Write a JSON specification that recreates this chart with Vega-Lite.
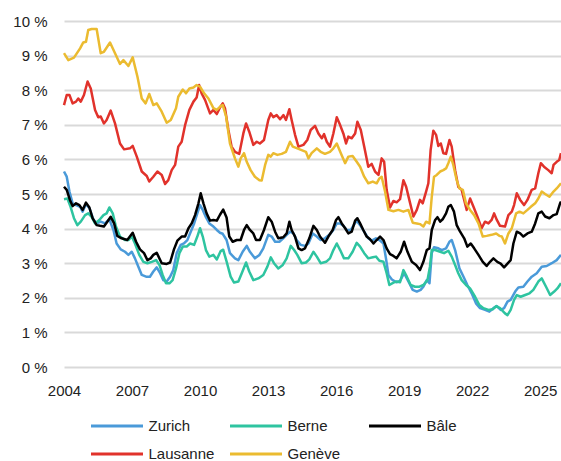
{
"$schema":"https://vega.github.io/schema/vega-lite/v6.json",
"width":497,"height":346,
"autosize":{"type":"none"},
"padding":{"left":64,"top":21,"right":0,"bottom":94},
"background":"white",
"config":{"view":{"stroke":null},"font":"Liberation Sans"},
"data":{"values":[
{"s":"Zurich","t":2004.0,"v":5.65},{"s":"Zurich","t":2004.12,"v":5.50},{"s":"Zurich","t":2004.24,"v":5.07},{"s":"Zurich","t":2004.38,"v":4.73},{"s":"Zurich","t":2004.53,"v":4.68},{"s":"Zurich","t":2004.71,"v":4.63},{"s":"Zurich","t":2004.82,"v":4.49},{"s":"Zurich","t":2004.97,"v":4.71},{"s":"Zurich","t":2005.12,"v":4.59},{"s":"Zurich","t":2005.29,"v":4.27},{"s":"Zurich","t":2005.44,"v":4.15},{"s":"Zurich","t":2005.62,"v":4.20},{"s":"Zurich","t":2005.81,"v":4.15},{"s":"Zurich","t":2006.0,"v":4.27},{"s":"Zurich","t":2006.18,"v":3.96},{"s":"Zurich","t":2006.32,"v":3.57},{"s":"Zurich","t":2006.5,"v":3.40},{"s":"Zurich","t":2006.69,"v":3.33},{"s":"Zurich","t":2006.84,"v":3.24},{"s":"Zurich","t":2006.99,"v":3.33},{"s":"Zurich","t":2007.13,"v":3.14},{"s":"Zurich","t":2007.28,"v":2.90},{"s":"Zurich","t":2007.43,"v":2.66},{"s":"Zurich","t":2007.62,"v":2.61},{"s":"Zurich","t":2007.79,"v":2.61},{"s":"Zurich","t":2007.94,"v":2.76},{"s":"Zurich","t":2008.09,"v":2.88},{"s":"Zurich","t":2008.24,"v":2.71},{"s":"Zurich","t":2008.38,"v":2.51},{"s":"Zurich","t":2008.53,"v":2.47},{"s":"Zurich","t":2008.68,"v":2.61},{"s":"Zurich","t":2008.82,"v":2.80},{"s":"Zurich","t":2008.97,"v":3.29},{"s":"Zurich","t":2009.15,"v":3.53},{"s":"Zurich","t":2009.29,"v":3.57},{"s":"Zurich","t":2009.44,"v":3.67},{"s":"Zurich","t":2009.59,"v":3.91},{"s":"Zurich","t":2009.74,"v":4.15},{"s":"Zurich","t":2009.88,"v":4.44},{"s":"Zurich","t":2010.0,"v":4.68},{"s":"Zurich","t":2010.12,"v":4.54},{"s":"Zurich","t":2010.26,"v":4.33},{"s":"Zurich","t":2010.41,"v":4.15},{"s":"Zurich","t":2010.59,"v":4.06},{"s":"Zurich","t":2010.74,"v":3.96},{"s":"Zurich","t":2010.88,"v":3.88},{"s":"Zurich","t":2011.0,"v":3.85},{"s":"Zurich","t":2011.17,"v":3.67},{"s":"Zurich","t":2011.32,"v":3.29},{"s":"Zurich","t":2011.54,"v":3.14},{"s":"Zurich","t":2011.69,"v":3.09},{"s":"Zurich","t":2011.88,"v":3.33},{"s":"Zurich","t":2012.06,"v":3.50},{"s":"Zurich","t":2012.2,"v":3.33},{"s":"Zurich","t":2012.42,"v":3.14},{"s":"Zurich","t":2012.62,"v":3.24},{"s":"Zurich","t":2012.79,"v":3.43},{"s":"Zurich","t":2013.01,"v":3.82},{"s":"Zurich","t":2013.16,"v":3.77},{"s":"Zurich","t":2013.31,"v":3.62},{"s":"Zurich","t":2013.5,"v":3.62},{"s":"Zurich","t":2013.67,"v":3.72},{"s":"Zurich","t":2013.82,"v":3.82},{"s":"Zurich","t":2013.97,"v":3.91},{"s":"Zurich","t":2014.12,"v":3.86},{"s":"Zurich","t":2014.26,"v":3.67},{"s":"Zurich","t":2014.44,"v":3.53},{"s":"Zurich","t":2014.63,"v":3.50},{"s":"Zurich","t":2014.78,"v":3.57},{"s":"Zurich","t":2014.97,"v":3.86},{"s":"Zurich","t":2015.15,"v":3.77},{"s":"Zurich","t":2015.32,"v":3.67},{"s":"Zurich","t":2015.51,"v":3.72},{"s":"Zurich","t":2015.73,"v":3.84},{"s":"Zurich","t":2015.88,"v":3.96},{"s":"Zurich","t":2016.03,"v":4.15},{"s":"Zurich","t":2016.18,"v":4.15},{"s":"Zurich","t":2016.32,"v":4.08},{"s":"Zurich","t":2016.47,"v":3.96},{"s":"Zurich","t":2016.65,"v":3.96},{"s":"Zurich","t":2016.76,"v":4.08},{"s":"Zurich","t":2016.91,"v":4.23},{"s":"Zurich","t":2017.06,"v":4.10},{"s":"Zurich","t":2017.24,"v":3.91},{"s":"Zurich","t":2017.42,"v":3.72},{"s":"Zurich","t":2017.57,"v":3.65},{"s":"Zurich","t":2017.76,"v":3.72},{"s":"Zurich","t":2017.91,"v":3.67},{"s":"Zurich","t":2018.09,"v":3.57},{"s":"Zurich","t":2018.2,"v":3.14},{"s":"Zurich","t":2018.31,"v":2.66},{"s":"Zurich","t":2018.46,"v":2.53},{"s":"Zurich","t":2018.67,"v":2.45},{"s":"Zurich","t":2018.82,"v":2.49},{"s":"Zurich","t":2019.0,"v":2.71},{"s":"Zurich","t":2019.19,"v":2.47},{"s":"Zurich","t":2019.38,"v":2.23},{"s":"Zurich","t":2019.56,"v":2.18},{"s":"Zurich","t":2019.73,"v":2.23},{"s":"Zurich","t":2019.85,"v":2.32},{"s":"Zurich","t":2020.0,"v":2.51},{"s":"Zurich","t":2020.12,"v":2.42},{"s":"Zurich","t":2020.22,"v":3.29},{"s":"Zurich","t":2020.32,"v":3.46},{"s":"Zurich","t":2020.51,"v":3.43},{"s":"Zurich","t":2020.66,"v":3.38},{"s":"Zurich","t":2020.85,"v":3.43},{"s":"Zurich","t":2021.0,"v":3.62},{"s":"Zurich","t":2021.1,"v":3.67},{"s":"Zurich","t":2021.25,"v":3.38},{"s":"Zurich","t":2021.44,"v":2.85},{"s":"Zurich","t":2021.62,"v":2.61},{"s":"Zurich","t":2021.79,"v":2.37},{"s":"Zurich","t":2021.98,"v":2.13},{"s":"Zurich","t":2022.17,"v":1.84},{"s":"Zurich","t":2022.35,"v":1.70},{"s":"Zurich","t":2022.57,"v":1.65},{"s":"Zurich","t":2022.76,"v":1.60},{"s":"Zurich","t":2022.94,"v":1.70},{"s":"Zurich","t":2023.09,"v":1.76},{"s":"Zurich","t":2023.26,"v":1.65},{"s":"Zurich","t":2023.41,"v":1.70},{"s":"Zurich","t":2023.56,"v":1.89},{"s":"Zurich","t":2023.7,"v":1.94},{"s":"Zurich","t":2023.9,"v":2.18},{"s":"Zurich","t":2024.04,"v":2.30},{"s":"Zurich","t":2024.26,"v":2.32},{"s":"Zurich","t":2024.44,"v":2.47},{"s":"Zurich","t":2024.63,"v":2.61},{"s":"Zurich","t":2024.85,"v":2.71},{"s":"Zurich","t":2025.07,"v":2.90},{"s":"Zurich","t":2025.29,"v":2.92},{"s":"Zurich","t":2025.51,"v":3.00},{"s":"Zurich","t":2025.73,"v":3.09},{"s":"Zurich","t":2025.92,"v":3.24},
{"s":"Berne","t":2004.0,"v":4.85},{"s":"Berne","t":2004.15,"v":4.87},{"s":"Berne","t":2004.29,"v":4.63},{"s":"Berne","t":2004.44,"v":4.30},{"s":"Berne","t":2004.59,"v":4.10},{"s":"Berne","t":2004.74,"v":4.20},{"s":"Berne","t":2004.93,"v":4.39},{"s":"Berne","t":2005.07,"v":4.44},{"s":"Berne","t":2005.22,"v":4.34},{"s":"Berne","t":2005.37,"v":4.15},{"s":"Berne","t":2005.56,"v":4.25},{"s":"Berne","t":2005.74,"v":4.39},{"s":"Berne","t":2005.88,"v":4.44},{"s":"Berne","t":2006.0,"v":4.61},{"s":"Berne","t":2006.15,"v":4.44},{"s":"Berne","t":2006.29,"v":4.06},{"s":"Berne","t":2006.47,"v":3.77},{"s":"Berne","t":2006.69,"v":3.67},{"s":"Berne","t":2006.84,"v":3.67},{"s":"Berne","t":2006.99,"v":3.77},{"s":"Berne","t":2007.13,"v":3.57},{"s":"Berne","t":2007.32,"v":3.24},{"s":"Berne","t":2007.5,"v":3.04},{"s":"Berne","t":2007.68,"v":3.00},{"s":"Berne","t":2007.87,"v":3.04},{"s":"Berne","t":2008.06,"v":3.09},{"s":"Berne","t":2008.21,"v":2.95},{"s":"Berne","t":2008.35,"v":2.66},{"s":"Berne","t":2008.5,"v":2.42},{"s":"Berne","t":2008.65,"v":2.42},{"s":"Berne","t":2008.79,"v":2.51},{"s":"Berne","t":2008.94,"v":2.85},{"s":"Berne","t":2009.09,"v":3.29},{"s":"Berne","t":2009.24,"v":3.48},{"s":"Berne","t":2009.41,"v":3.48},{"s":"Berne","t":2009.56,"v":3.57},{"s":"Berne","t":2009.74,"v":3.53},{"s":"Berne","t":2009.88,"v":3.77},{"s":"Berne","t":2010.0,"v":4.01},{"s":"Berne","t":2010.12,"v":3.77},{"s":"Berne","t":2010.26,"v":3.38},{"s":"Berne","t":2010.41,"v":3.19},{"s":"Berne","t":2010.59,"v":3.24},{"s":"Berne","t":2010.74,"v":3.11},{"s":"Berne","t":2010.91,"v":3.35},{"s":"Berne","t":2011.02,"v":3.39},{"s":"Berne","t":2011.17,"v":3.05},{"s":"Berne","t":2011.35,"v":2.61},{"s":"Berne","t":2011.5,"v":2.44},{"s":"Berne","t":2011.69,"v":2.47},{"s":"Berne","t":2011.84,"v":2.71},{"s":"Berne","t":2012.03,"v":3.02},{"s":"Berne","t":2012.17,"v":2.76},{"s":"Berne","t":2012.35,"v":2.51},{"s":"Berne","t":2012.57,"v":2.56},{"s":"Berne","t":2012.79,"v":2.66},{"s":"Berne","t":2012.97,"v":2.90},{"s":"Berne","t":2013.12,"v":3.17},{"s":"Berne","t":2013.26,"v":3.00},{"s":"Berne","t":2013.45,"v":2.85},{"s":"Berne","t":2013.65,"v":2.95},{"s":"Berne","t":2013.82,"v":3.14},{"s":"Berne","t":2014.0,"v":3.50},{"s":"Berne","t":2014.15,"v":3.38},{"s":"Berne","t":2014.29,"v":3.24},{"s":"Berne","t":2014.48,"v":3.00},{"s":"Berne","t":2014.67,"v":3.02},{"s":"Berne","t":2014.82,"v":3.11},{"s":"Berne","t":2015.0,"v":3.33},{"s":"Berne","t":2015.15,"v":3.19},{"s":"Berne","t":2015.32,"v":3.00},{"s":"Berne","t":2015.56,"v":3.04},{"s":"Berne","t":2015.73,"v":3.14},{"s":"Berne","t":2015.88,"v":3.38},{"s":"Berne","t":2016.03,"v":3.57},{"s":"Berne","t":2016.18,"v":3.38},{"s":"Berne","t":2016.35,"v":3.14},{"s":"Berne","t":2016.54,"v":3.14},{"s":"Berne","t":2016.73,"v":3.33},{"s":"Berne","t":2016.91,"v":3.59},{"s":"Berne","t":2017.06,"v":3.48},{"s":"Berne","t":2017.24,"v":3.29},{"s":"Berne","t":2017.42,"v":3.14},{"s":"Berne","t":2017.62,"v":3.17},{"s":"Berne","t":2017.76,"v":3.19},{"s":"Berne","t":2017.91,"v":3.07},{"s":"Berne","t":2018.09,"v":3.04},{"s":"Berne","t":2018.23,"v":2.71},{"s":"Berne","t":2018.35,"v":2.37},{"s":"Berne","t":2018.53,"v":2.44},{"s":"Berne","t":2018.67,"v":2.47},{"s":"Berne","t":2018.82,"v":2.45},{"s":"Berne","t":2018.97,"v":2.80},{"s":"Berne","t":2019.12,"v":2.61},{"s":"Berne","t":2019.29,"v":2.37},{"s":"Berne","t":2019.48,"v":2.32},{"s":"Berne","t":2019.68,"v":2.32},{"s":"Berne","t":2019.85,"v":2.37},{"s":"Berne","t":2020.03,"v":2.51},{"s":"Berne","t":2020.14,"v":2.90},{"s":"Berne","t":2020.22,"v":3.38},{"s":"Berne","t":2020.37,"v":3.38},{"s":"Berne","t":2020.59,"v":3.33},{"s":"Berne","t":2020.76,"v":3.29},{"s":"Berne","t":2020.95,"v":3.36},{"s":"Berne","t":2021.1,"v":3.19},{"s":"Berne","t":2021.25,"v":2.95},{"s":"Berne","t":2021.39,"v":2.71},{"s":"Berne","t":2021.54,"v":2.51},{"s":"Berne","t":2021.73,"v":2.37},{"s":"Berne","t":2021.91,"v":2.27},{"s":"Berne","t":2022.13,"v":2.03},{"s":"Berne","t":2022.32,"v":1.79},{"s":"Berne","t":2022.5,"v":1.70},{"s":"Berne","t":2022.72,"v":1.65},{"s":"Berne","t":2022.91,"v":1.67},{"s":"Berne","t":2023.06,"v":1.76},{"s":"Berne","t":2023.23,"v":1.70},{"s":"Berne","t":2023.45,"v":1.55},{"s":"Berne","t":2023.56,"v":1.50},{"s":"Berne","t":2023.7,"v":1.65},{"s":"Berne","t":2023.85,"v":1.94},{"s":"Berne","t":2023.97,"v":2.08},{"s":"Berne","t":2024.14,"v":2.03},{"s":"Berne","t":2024.34,"v":2.08},{"s":"Berne","t":2024.53,"v":2.13},{"s":"Berne","t":2024.7,"v":2.23},{"s":"Berne","t":2024.92,"v":2.47},{"s":"Berne","t":2025.07,"v":2.56},{"s":"Berne","t":2025.26,"v":2.32},{"s":"Berne","t":2025.44,"v":2.08},{"s":"Berne","t":2025.62,"v":2.18},{"s":"Berne","t":2025.76,"v":2.27},{"s":"Berne","t":2025.92,"v":2.42},
{"s":"Bâle","t":2004.0,"v":5.21},{"s":"Bâle","t":2004.12,"v":5.12},{"s":"Bâle","t":2004.26,"v":4.83},{"s":"Bâle","t":2004.38,"v":4.65},{"s":"Bâle","t":2004.53,"v":4.73},{"s":"Bâle","t":2004.68,"v":4.68},{"s":"Bâle","t":2004.82,"v":4.54},{"s":"Bâle","t":2004.97,"v":4.75},{"s":"Bâle","t":2005.12,"v":4.61},{"s":"Bâle","t":2005.26,"v":4.30},{"s":"Bâle","t":2005.44,"v":4.10},{"s":"Bâle","t":2005.59,"v":4.08},{"s":"Bâle","t":2005.76,"v":4.06},{"s":"Bâle","t":2005.91,"v":4.20},{"s":"Bâle","t":2006.06,"v":4.34},{"s":"Bâle","t":2006.21,"v":4.15},{"s":"Bâle","t":2006.35,"v":3.79},{"s":"Bâle","t":2006.54,"v":3.72},{"s":"Bâle","t":2006.79,"v":3.67},{"s":"Bâle","t":2007.03,"v":3.88},{"s":"Bâle","t":2007.18,"v":3.62},{"s":"Bâle","t":2007.35,"v":3.40},{"s":"Bâle","t":2007.53,"v":3.29},{"s":"Bâle","t":2007.68,"v":3.09},{"s":"Bâle","t":2007.82,"v":3.14},{"s":"Bâle","t":2007.94,"v":3.24},{"s":"Bâle","t":2008.09,"v":3.30},{"s":"Bâle","t":2008.31,"v":3.00},{"s":"Bâle","t":2008.53,"v":2.98},{"s":"Bâle","t":2008.68,"v":3.02},{"s":"Bâle","t":2008.85,"v":3.40},{"s":"Bâle","t":2009.0,"v":3.65},{"s":"Bâle","t":2009.19,"v":3.77},{"s":"Bâle","t":2009.34,"v":3.77},{"s":"Bâle","t":2009.49,"v":4.01},{"s":"Bâle","t":2009.63,"v":4.15},{"s":"Bâle","t":2009.78,"v":4.39},{"s":"Bâle","t":2009.93,"v":4.73},{"s":"Bâle","t":2010.03,"v":5.02},{"s":"Bâle","t":2010.15,"v":4.73},{"s":"Bâle","t":2010.29,"v":4.44},{"s":"Bâle","t":2010.44,"v":4.23},{"s":"Bâle","t":2010.59,"v":4.25},{"s":"Bâle","t":2010.74,"v":4.23},{"s":"Bâle","t":2010.88,"v":4.40},{"s":"Bâle","t":2011.02,"v":4.55},{"s":"Bâle","t":2011.17,"v":4.32},{"s":"Bâle","t":2011.29,"v":3.77},{"s":"Bâle","t":2011.44,"v":3.62},{"s":"Bâle","t":2011.62,"v":3.67},{"s":"Bâle","t":2011.79,"v":3.67},{"s":"Bâle","t":2011.94,"v":3.96},{"s":"Bâle","t":2012.06,"v":4.10},{"s":"Bâle","t":2012.2,"v":3.96},{"s":"Bâle","t":2012.35,"v":3.86},{"s":"Bâle","t":2012.47,"v":3.67},{"s":"Bâle","t":2012.64,"v":3.67},{"s":"Bâle","t":2012.82,"v":3.96},{"s":"Bâle","t":2013.01,"v":4.33},{"s":"Bâle","t":2013.16,"v":4.20},{"s":"Bâle","t":2013.31,"v":3.91},{"s":"Bâle","t":2013.45,"v":3.72},{"s":"Bâle","t":2013.67,"v":3.75},{"s":"Bâle","t":2013.82,"v":3.86},{"s":"Bâle","t":2013.94,"v":4.20},{"s":"Bâle","t":2014.04,"v":3.96},{"s":"Bâle","t":2014.19,"v":3.77},{"s":"Bâle","t":2014.34,"v":3.43},{"s":"Bâle","t":2014.48,"v":3.38},{"s":"Bâle","t":2014.63,"v":3.43},{"s":"Bâle","t":2014.82,"v":3.72},{"s":"Bâle","t":2015.0,"v":4.08},{"s":"Bâle","t":2015.15,"v":3.96},{"s":"Bâle","t":2015.29,"v":3.77},{"s":"Bâle","t":2015.51,"v":3.59},{"s":"Bâle","t":2015.66,"v":3.77},{"s":"Bâle","t":2015.85,"v":3.96},{"s":"Bâle","t":2016.0,"v":4.25},{"s":"Bâle","t":2016.1,"v":4.33},{"s":"Bâle","t":2016.25,"v":4.15},{"s":"Bâle","t":2016.4,"v":4.01},{"s":"Bâle","t":2016.54,"v":3.86},{"s":"Bâle","t":2016.69,"v":3.91},{"s":"Bâle","t":2016.84,"v":4.23},{"s":"Bâle","t":2016.94,"v":4.30},{"s":"Bâle","t":2017.06,"v":4.15},{"s":"Bâle","t":2017.2,"v":3.96},{"s":"Bâle","t":2017.35,"v":3.77},{"s":"Bâle","t":2017.5,"v":3.69},{"s":"Bâle","t":2017.65,"v":3.57},{"s":"Bâle","t":2017.79,"v":3.67},{"s":"Bâle","t":2017.94,"v":3.77},{"s":"Bâle","t":2018.09,"v":3.67},{"s":"Bâle","t":2018.23,"v":3.43},{"s":"Bâle","t":2018.38,"v":3.26},{"s":"Bâle","t":2018.53,"v":3.21},{"s":"Bâle","t":2018.67,"v":3.14},{"s":"Bâle","t":2018.85,"v":3.33},{"s":"Bâle","t":2019.0,"v":3.62},{"s":"Bâle","t":2019.15,"v":3.33},{"s":"Bâle","t":2019.34,"v":3.04},{"s":"Bâle","t":2019.53,"v":2.95},{"s":"Bâle","t":2019.7,"v":2.80},{"s":"Bâle","t":2019.85,"v":3.04},{"s":"Bâle","t":2020.0,"v":3.38},{"s":"Bâle","t":2020.12,"v":3.43},{"s":"Bâle","t":2020.22,"v":3.96},{"s":"Bâle","t":2020.37,"v":4.25},{"s":"Bâle","t":2020.47,"v":4.33},{"s":"Bâle","t":2020.59,"v":4.20},{"s":"Bâle","t":2020.7,"v":4.27},{"s":"Bâle","t":2020.85,"v":4.44},{"s":"Bâle","t":2020.95,"v":4.63},{"s":"Bâle","t":2021.06,"v":4.68},{"s":"Bâle","t":2021.2,"v":4.49},{"s":"Bâle","t":2021.32,"v":4.10},{"s":"Bâle","t":2021.47,"v":3.91},{"s":"Bâle","t":2021.65,"v":3.72},{"s":"Bâle","t":2021.79,"v":3.48},{"s":"Bâle","t":2021.94,"v":3.57},{"s":"Bâle","t":2022.09,"v":3.43},{"s":"Bâle","t":2022.28,"v":3.24},{"s":"Bâle","t":2022.47,"v":3.04},{"s":"Bâle","t":2022.64,"v":2.92},{"s":"Bâle","t":2022.79,"v":3.04},{"s":"Bâle","t":2022.94,"v":3.14},{"s":"Bâle","t":2023.11,"v":3.04},{"s":"Bâle","t":2023.26,"v":2.99},{"s":"Bâle","t":2023.41,"v":2.88},{"s":"Bâle","t":2023.56,"v":2.99},{"s":"Bâle","t":2023.7,"v":3.09},{"s":"Bâle","t":2023.82,"v":3.57},{"s":"Bâle","t":2023.97,"v":3.91},{"s":"Bâle","t":2024.12,"v":3.86},{"s":"Bâle","t":2024.26,"v":3.77},{"s":"Bâle","t":2024.44,"v":3.86},{"s":"Bâle","t":2024.63,"v":3.91},{"s":"Bâle","t":2024.78,"v":4.15},{"s":"Bâle","t":2024.92,"v":4.44},{"s":"Bâle","t":2025.07,"v":4.49},{"s":"Bâle","t":2025.22,"v":4.35},{"s":"Bâle","t":2025.41,"v":4.30},{"s":"Bâle","t":2025.59,"v":4.39},{"s":"Bâle","t":2025.73,"v":4.42},{"s":"Bâle","t":2025.88,"v":4.73},{"s":"Bâle","t":2025.92,"v":4.78},
{"s":"Lausanne","t":2004.0,"v":7.57},{"s":"Lausanne","t":2004.12,"v":7.86},{"s":"Lausanne","t":2004.24,"v":7.86},{"s":"Lausanne","t":2004.38,"v":7.62},{"s":"Lausanne","t":2004.53,"v":7.67},{"s":"Lausanne","t":2004.63,"v":7.76},{"s":"Lausanne","t":2004.74,"v":7.67},{"s":"Lausanne","t":2004.88,"v":7.86},{"s":"Lausanne","t":2005.04,"v":8.25},{"s":"Lausanne","t":2005.18,"v":8.05},{"s":"Lausanne","t":2005.37,"v":7.43},{"s":"Lausanne","t":2005.51,"v":7.22},{"s":"Lausanne","t":2005.62,"v":7.24},{"s":"Lausanne","t":2005.76,"v":7.04},{"s":"Lausanne","t":2005.88,"v":7.14},{"s":"Lausanne","t":2006.06,"v":7.41},{"s":"Lausanne","t":2006.25,"v":7.04},{"s":"Lausanne","t":2006.47,"v":6.46},{"s":"Lausanne","t":2006.65,"v":6.29},{"s":"Lausanne","t":2006.91,"v":6.32},{"s":"Lausanne","t":2007.03,"v":6.39},{"s":"Lausanne","t":2007.21,"v":6.08},{"s":"Lausanne","t":2007.43,"v":5.65},{"s":"Lausanne","t":2007.65,"v":5.52},{"s":"Lausanne","t":2007.76,"v":5.36},{"s":"Lausanne","t":2007.94,"v":5.50},{"s":"Lausanne","t":2008.12,"v":5.65},{"s":"Lausanne","t":2008.31,"v":5.55},{"s":"Lausanne","t":2008.46,"v":5.29},{"s":"Lausanne","t":2008.6,"v":5.40},{"s":"Lausanne","t":2008.75,"v":5.69},{"s":"Lausanne","t":2008.9,"v":5.84},{"s":"Lausanne","t":2009.04,"v":6.37},{"s":"Lausanne","t":2009.19,"v":6.51},{"s":"Lausanne","t":2009.34,"v":6.99},{"s":"Lausanne","t":2009.53,"v":7.43},{"s":"Lausanne","t":2009.71,"v":7.67},{"s":"Lausanne","t":2009.85,"v":7.79},{"s":"Lausanne","t":2009.96,"v":8.15},{"s":"Lausanne","t":2010.07,"v":7.91},{"s":"Lausanne","t":2010.22,"v":7.72},{"s":"Lausanne","t":2010.44,"v":7.33},{"s":"Lausanne","t":2010.59,"v":7.43},{"s":"Lausanne","t":2010.74,"v":7.31},{"s":"Lausanne","t":2010.88,"v":7.50},{"s":"Lausanne","t":2011.0,"v":7.62},{"s":"Lausanne","t":2011.1,"v":7.48},{"s":"Lausanne","t":2011.25,"v":6.85},{"s":"Lausanne","t":2011.39,"v":6.37},{"s":"Lausanne","t":2011.54,"v":6.22},{"s":"Lausanne","t":2011.73,"v":6.16},{"s":"Lausanne","t":2011.91,"v":6.75},{"s":"Lausanne","t":2012.03,"v":7.04},{"s":"Lausanne","t":2012.17,"v":6.80},{"s":"Lausanne","t":2012.35,"v":6.42},{"s":"Lausanne","t":2012.5,"v":6.51},{"s":"Lausanne","t":2012.64,"v":6.46},{"s":"Lausanne","t":2012.82,"v":6.56},{"s":"Lausanne","t":2013.01,"v":7.14},{"s":"Lausanne","t":2013.12,"v":7.33},{"s":"Lausanne","t":2013.23,"v":7.22},{"s":"Lausanne","t":2013.38,"v":7.28},{"s":"Lausanne","t":2013.53,"v":7.16},{"s":"Lausanne","t":2013.68,"v":7.28},{"s":"Lausanne","t":2013.79,"v":7.14},{"s":"Lausanne","t":2013.94,"v":7.45},{"s":"Lausanne","t":2014.04,"v":7.14},{"s":"Lausanne","t":2014.19,"v":6.71},{"s":"Lausanne","t":2014.34,"v":6.37},{"s":"Lausanne","t":2014.56,"v":6.42},{"s":"Lausanne","t":2014.73,"v":6.56},{"s":"Lausanne","t":2014.88,"v":6.85},{"s":"Lausanne","t":2015.07,"v":6.97},{"s":"Lausanne","t":2015.22,"v":6.75},{"s":"Lausanne","t":2015.37,"v":6.61},{"s":"Lausanne","t":2015.47,"v":6.73},{"s":"Lausanne","t":2015.59,"v":6.51},{"s":"Lausanne","t":2015.73,"v":6.37},{"s":"Lausanne","t":2015.88,"v":6.75},{"s":"Lausanne","t":2016.03,"v":7.22},{"s":"Lausanne","t":2016.15,"v":7.04},{"s":"Lausanne","t":2016.32,"v":6.75},{"s":"Lausanne","t":2016.44,"v":6.46},{"s":"Lausanne","t":2016.54,"v":6.66},{"s":"Lausanne","t":2016.69,"v":6.61},{"s":"Lausanne","t":2016.84,"v":6.75},{"s":"Lausanne","t":2016.94,"v":7.09},{"s":"Lausanne","t":2017.09,"v":6.85},{"s":"Lausanne","t":2017.24,"v":6.37},{"s":"Lausanne","t":2017.42,"v":5.79},{"s":"Lausanne","t":2017.57,"v":5.87},{"s":"Lausanne","t":2017.72,"v":5.65},{"s":"Lausanne","t":2017.87,"v":5.55},{"s":"Lausanne","t":2018.01,"v":6.03},{"s":"Lausanne","t":2018.12,"v":5.93},{"s":"Lausanne","t":2018.23,"v":5.12},{"s":"Lausanne","t":2018.38,"v":4.61},{"s":"Lausanne","t":2018.53,"v":4.80},{"s":"Lausanne","t":2018.67,"v":4.76},{"s":"Lausanne","t":2018.82,"v":4.85},{"s":"Lausanne","t":2018.97,"v":5.40},{"s":"Lausanne","t":2019.09,"v":5.21},{"s":"Lausanne","t":2019.23,"v":4.83},{"s":"Lausanne","t":2019.41,"v":4.35},{"s":"Lausanne","t":2019.56,"v":4.54},{"s":"Lausanne","t":2019.7,"v":4.83},{"s":"Lausanne","t":2019.82,"v":4.73},{"s":"Lausanne","t":2019.97,"v":5.07},{"s":"Lausanne","t":2020.07,"v":5.31},{"s":"Lausanne","t":2020.17,"v":6.27},{"s":"Lausanne","t":2020.29,"v":6.83},{"s":"Lausanne","t":2020.41,"v":6.71},{"s":"Lausanne","t":2020.51,"v":6.39},{"s":"Lausanne","t":2020.62,"v":6.46},{"s":"Lausanne","t":2020.73,"v":6.18},{"s":"Lausanne","t":2020.85,"v":6.16},{"s":"Lausanne","t":2021.0,"v":6.56},{"s":"Lausanne","t":2021.1,"v":6.37},{"s":"Lausanne","t":2021.25,"v":5.69},{"s":"Lausanne","t":2021.39,"v":5.21},{"s":"Lausanne","t":2021.54,"v":5.12},{"s":"Lausanne","t":2021.65,"v":4.83},{"s":"Lausanne","t":2021.76,"v":4.54},{"s":"Lausanne","t":2021.91,"v":4.87},{"s":"Lausanne","t":2022.06,"v":4.63},{"s":"Lausanne","t":2022.23,"v":4.35},{"s":"Lausanne","t":2022.42,"v":4.01},{"s":"Lausanne","t":2022.57,"v":4.20},{"s":"Lausanne","t":2022.72,"v":4.15},{"s":"Lausanne","t":2022.86,"v":4.25},{"s":"Lausanne","t":2022.97,"v":4.44},{"s":"Lausanne","t":2023.09,"v":4.25},{"s":"Lausanne","t":2023.23,"v":4.08},{"s":"Lausanne","t":2023.45,"v":4.06},{"s":"Lausanne","t":2023.6,"v":4.39},{"s":"Lausanne","t":2023.75,"v":4.49},{"s":"Lausanne","t":2023.85,"v":4.68},{"s":"Lausanne","t":2023.97,"v":5.02},{"s":"Lausanne","t":2024.12,"v":4.83},{"s":"Lausanne","t":2024.29,"v":4.68},{"s":"Lausanne","t":2024.44,"v":4.83},{"s":"Lausanne","t":2024.63,"v":5.12},{"s":"Lausanne","t":2024.78,"v":5.16},{"s":"Lausanne","t":2024.92,"v":5.60},{"s":"Lausanne","t":2025.03,"v":5.89},{"s":"Lausanne","t":2025.17,"v":5.79},{"s":"Lausanne","t":2025.36,"v":5.69},{"s":"Lausanne","t":2025.51,"v":5.60},{"s":"Lausanne","t":2025.59,"v":5.84},{"s":"Lausanne","t":2025.73,"v":5.93},{"s":"Lausanne","t":2025.84,"v":5.98},{"s":"Lausanne","t":2025.92,"v":6.18},
{"s":"Genève","t":2004.0,"v":9.07},{"s":"Genève","t":2004.19,"v":8.87},{"s":"Genève","t":2004.44,"v":8.94},{"s":"Genève","t":2004.71,"v":9.21},{"s":"Genève","t":2004.85,"v":9.38},{"s":"Genève","t":2004.97,"v":9.40},{"s":"Genève","t":2005.07,"v":9.74},{"s":"Genève","t":2005.22,"v":9.77},{"s":"Genève","t":2005.44,"v":9.77},{"s":"Genève","t":2005.62,"v":9.07},{"s":"Genève","t":2005.76,"v":9.11},{"s":"Genève","t":2006.03,"v":9.38},{"s":"Genève","t":2006.25,"v":9.07},{"s":"Genève","t":2006.47,"v":8.76},{"s":"Genève","t":2006.62,"v":8.87},{"s":"Genève","t":2006.84,"v":8.70},{"s":"Genève","t":2007.03,"v":8.95},{"s":"Genève","t":2007.24,"v":8.39},{"s":"Genève","t":2007.43,"v":7.76},{"s":"Genève","t":2007.6,"v":7.62},{"s":"Genève","t":2007.76,"v":7.89},{"s":"Genève","t":2007.94,"v":7.57},{"s":"Genève","t":2008.09,"v":7.62},{"s":"Genève","t":2008.31,"v":7.38},{"s":"Genève","t":2008.53,"v":7.06},{"s":"Genève","t":2008.71,"v":7.14},{"s":"Genève","t":2008.94,"v":7.48},{"s":"Genève","t":2009.04,"v":7.81},{"s":"Genève","t":2009.24,"v":8.02},{"s":"Genève","t":2009.38,"v":7.91},{"s":"Genève","t":2009.53,"v":8.05},{"s":"Genève","t":2009.71,"v":8.08},{"s":"Genève","t":2009.85,"v":8.15},{"s":"Genève","t":2010.0,"v":8.10},{"s":"Genève","t":2010.18,"v":7.91},{"s":"Genève","t":2010.37,"v":7.76},{"s":"Genève","t":2010.59,"v":7.48},{"s":"Genève","t":2010.74,"v":7.43},{"s":"Genève","t":2010.91,"v":7.54},{"s":"Genève","t":2011.0,"v":7.57},{"s":"Genève","t":2011.15,"v":7.24},{"s":"Genève","t":2011.32,"v":6.46},{"s":"Genève","t":2011.54,"v":6.03},{"s":"Genève","t":2011.69,"v":5.79},{"s":"Genève","t":2011.79,"v":6.03},{"s":"Genève","t":2011.94,"v":6.18},{"s":"Genève","t":2012.06,"v":5.93},{"s":"Genève","t":2012.23,"v":5.69},{"s":"Genève","t":2012.42,"v":5.50},{"s":"Genève","t":2012.62,"v":5.40},{"s":"Genève","t":2012.72,"v":5.39},{"s":"Genève","t":2012.87,"v":5.84},{"s":"Genève","t":2013.01,"v":6.13},{"s":"Genève","t":2013.12,"v":6.08},{"s":"Genève","t":2013.23,"v":6.18},{"s":"Genève","t":2013.41,"v":6.13},{"s":"Genève","t":2013.6,"v":6.16},{"s":"Genève","t":2013.79,"v":6.22},{"s":"Genève","t":2013.97,"v":6.51},{"s":"Genève","t":2014.09,"v":6.37},{"s":"Genève","t":2014.29,"v":6.32},{"s":"Genève","t":2014.48,"v":6.27},{"s":"Genève","t":2014.67,"v":6.22},{"s":"Genève","t":2014.78,"v":6.03},{"s":"Genève","t":2014.92,"v":6.18},{"s":"Genève","t":2015.15,"v":6.32},{"s":"Genève","t":2015.32,"v":6.22},{"s":"Genève","t":2015.51,"v":6.16},{"s":"Genève","t":2015.73,"v":6.22},{"s":"Genève","t":2015.88,"v":6.32},{"s":"Genève","t":2016.03,"v":6.46},{"s":"Genève","t":2016.21,"v":6.18},{"s":"Genève","t":2016.4,"v":5.89},{"s":"Genève","t":2016.54,"v":6.08},{"s":"Genève","t":2016.73,"v":6.10},{"s":"Genève","t":2016.91,"v":5.93},{"s":"Genève","t":2017.06,"v":5.79},{"s":"Genève","t":2017.24,"v":5.50},{"s":"Genève","t":2017.42,"v":5.31},{"s":"Genève","t":2017.62,"v":5.36},{"s":"Genève","t":2017.79,"v":5.31},{"s":"Genève","t":2017.91,"v":5.45},{"s":"Genève","t":2018.01,"v":5.50},{"s":"Genève","t":2018.16,"v":5.07},{"s":"Genève","t":2018.31,"v":4.54},{"s":"Genève","t":2018.53,"v":4.50},{"s":"Genève","t":2018.75,"v":4.54},{"s":"Genève","t":2018.97,"v":4.49},{"s":"Genève","t":2019.19,"v":4.54},{"s":"Genève","t":2019.38,"v":4.17},{"s":"Genève","t":2019.56,"v":4.15},{"s":"Genève","t":2019.7,"v":4.13},{"s":"Genève","t":2019.85,"v":4.06},{"s":"Genève","t":2019.97,"v":4.20},{"s":"Genève","t":2020.12,"v":4.15},{"s":"Genève","t":2020.22,"v":4.92},{"s":"Genève","t":2020.32,"v":5.50},{"s":"Genève","t":2020.44,"v":5.55},{"s":"Genève","t":2020.59,"v":5.65},{"s":"Genève","t":2020.73,"v":5.69},{"s":"Genève","t":2020.85,"v":5.74},{"s":"Genève","t":2020.95,"v":5.89},{"s":"Genève","t":2021.06,"v":6.08},{"s":"Genève","t":2021.17,"v":5.84},{"s":"Genève","t":2021.32,"v":5.40},{"s":"Genève","t":2021.44,"v":5.16},{"s":"Genève","t":2021.59,"v":5.12},{"s":"Genève","t":2021.73,"v":4.73},{"s":"Genève","t":2021.91,"v":4.54},{"s":"Genève","t":2022.09,"v":4.39},{"s":"Genève","t":2022.28,"v":4.15},{"s":"Genève","t":2022.47,"v":3.77},{"s":"Genève","t":2022.64,"v":3.79},{"s":"Genève","t":2022.86,"v":3.82},{"s":"Genève","t":2023.06,"v":3.86},{"s":"Genève","t":2023.2,"v":3.79},{"s":"Genève","t":2023.31,"v":3.77},{"s":"Genève","t":2023.45,"v":3.57},{"s":"Genève","t":2023.6,"v":3.86},{"s":"Genève","t":2023.75,"v":4.01},{"s":"Genève","t":2023.94,"v":4.44},{"s":"Genève","t":2024.09,"v":4.49},{"s":"Genève","t":2024.26,"v":4.44},{"s":"Genève","t":2024.44,"v":4.54},{"s":"Genève","t":2024.59,"v":4.63},{"s":"Genève","t":2024.78,"v":4.73},{"s":"Genève","t":2024.92,"v":4.87},{"s":"Genève","t":2025.07,"v":5.07},{"s":"Genève","t":2025.22,"v":5.00},{"s":"Genève","t":2025.41,"v":4.92},{"s":"Genève","t":2025.59,"v":5.07},{"s":"Genève","t":2025.73,"v":5.16},{"s":"Genève","t":2025.92,"v":5.31}
]},
"mark":{"type":"line","strokeWidth":2.5,"strokeJoin":"round"},
"encoding":{
"x":{"field":"t","type":"quantitative","scale":{"domain":[2004,2025.92],"nice":false,"zero":false},
 "axis":{"title":null,"values":[2004,2007,2010,2013,2016,2019,2022,2025],"format":"d","grid":false,"ticks":false,"domain":false,"labelFontSize":15,"labelColor":"#222","labelPadding":16,"labelFlush":false}},
"y":{"field":"v","type":"quantitative","scale":{"domain":[0,10],"nice":false},
 "axis":{"title":null,"values":[0,1,2,3,4,5,6,7,8,9,10],"labelExpr":"datum.value + ' %'","grid":true,"gridColor":"#d9d9d9","gridWidth":2,"ticks":false,"domain":false,"labelFontSize":15,"labelColor":"#222","labelPadding":17}},
"color":{"field":"s","type":"nominal","scale":{"domain":["Zurich","Berne","Bâle","Lausanne","Genève"],"range":["#4a9ad9","#2ec4a0","#000000","#e1322b","#ebbb30"]},
 "legend":{"title":null,"orient":"none","legendX":25.5,"legendY":395,"direction":"horizontal","columns":3,"symbolType":"stroke","symbolSize":2704,"symbolStrokeWidth":3,"labelFontSize":15,"labelColor":"#222","clipHeight":20,"rowPadding":8,"columnPadding":14,"gridAlign":"all","labelOffset":4,"padding":0}}
}
}
